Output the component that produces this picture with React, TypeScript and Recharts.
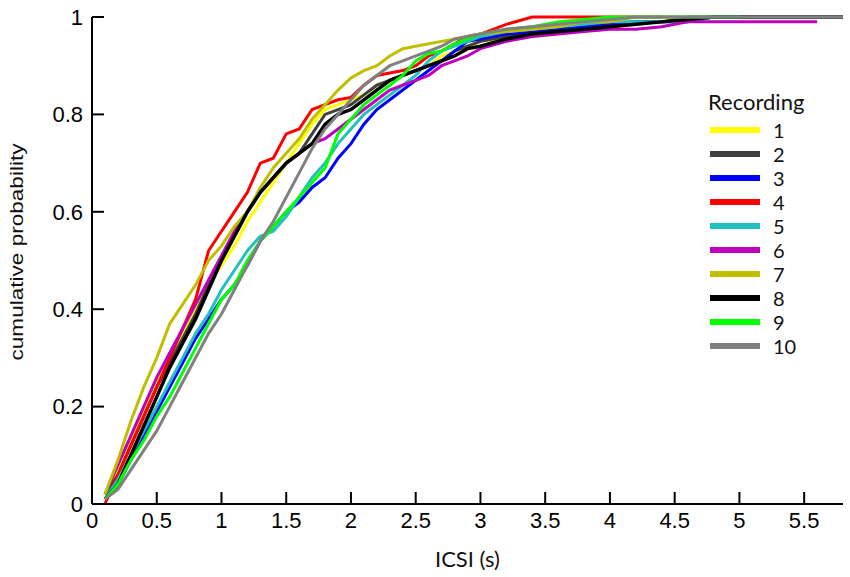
import React from 'react';
import { LineChart, Line, XAxis, YAxis, Legend, Label } from 'recharts';

// ICSI grid (s)
const xs = [
  0.1, 0.2, 0.3, 0.4, 0.5, 0.6, 0.7, 0.8, 0.9, 1.0,
  1.1, 1.2, 1.3, 1.4, 1.5, 1.6, 1.7, 1.8, 1.9, 2.0,
  2.1, 2.2, 2.3, 2.4, 2.5, 2.6, 2.7, 2.8, 2.9, 3.0,
  3.2, 3.4, 3.6, 3.8, 4.0, 4.2, 4.4, 4.6, 4.8, 5.0,
  5.2, 5.4, 5.6, 5.8,
];

const rec1 = [
  0.02, 0.07, 0.13, 0.19, 0.25, 0.3, 0.35, 0.4, 0.45, 0.49,
  0.53, 0.58, 0.62, 0.66, 0.7, 0.74, 0.78, 0.81, 0.82, 0.83,
  0.84, 0.86, 0.87, 0.88, 0.89, 0.9, 0.92, 0.93, 0.94, 0.95,
  0.955, 0.96, 0.965, 0.975, 0.98, 0.985, 0.99, 1.0,
];
const rec2 = [
  0.02, 0.06, 0.12, 0.18, 0.24, 0.29, 0.34, 0.39, 0.45, 0.5,
  0.55, 0.6, 0.64, 0.67, 0.7, 0.72, 0.76, 0.8, 0.81, 0.82,
  0.84, 0.86, 0.87, 0.88, 0.89, 0.9, 0.91, 0.93, 0.94, 0.95,
  0.96, 0.97, 0.975, 0.98, 0.985, 0.99, 0.99, 1.0, 1.0, 1.0,
];
const rec3 = [
  0.01, 0.04, 0.09, 0.14, 0.19, 0.24, 0.29, 0.34, 0.38, 0.42,
  0.45, 0.49, 0.54, 0.57, 0.6, 0.62, 0.65, 0.67, 0.71, 0.74,
  0.78, 0.81, 0.83, 0.85, 0.87, 0.89, 0.91, 0.93, 0.95, 0.955,
  0.965, 0.97, 0.975, 0.98, 0.985, 0.99, 0.99, 0.99, 1.0, 1.0,
];
const rec4 = [
  0.0, 0.06, 0.12, 0.18, 0.24, 0.3, 0.36, 0.42, 0.52, 0.56,
  0.6, 0.64, 0.7, 0.71, 0.76, 0.77, 0.81, 0.82, 0.83, 0.835,
  0.86, 0.88, 0.885, 0.89, 0.9, 0.92, 0.93, 0.945, 0.96, 0.965,
  0.985, 1.0, 1.0, 1.0, 1.0, 1.0, 1.0,
];
const rec5 = [
  0.01, 0.05, 0.1, 0.15, 0.2, 0.25, 0.3, 0.35, 0.39, 0.44,
  0.48, 0.52, 0.55, 0.56, 0.59, 0.63, 0.67, 0.7, 0.74, 0.77,
  0.8, 0.82, 0.84, 0.86, 0.88, 0.91, 0.93, 0.94, 0.95, 0.96,
  0.97, 0.975, 0.98, 0.985, 0.99, 0.99, 0.99, 0.99, 1.0,
];
const rec6 = [
  0.02, 0.08, 0.14, 0.2, 0.26, 0.31, 0.36, 0.41, 0.46, 0.51,
  0.56, 0.6, 0.64, 0.67, 0.7, 0.72, 0.74, 0.75, 0.77, 0.79,
  0.81, 0.83, 0.85, 0.86, 0.87, 0.88, 0.9, 0.91, 0.92, 0.935,
  0.95, 0.96, 0.965, 0.97, 0.975, 0.975, 0.98, 0.99, 0.99, 0.99,
  0.99, 0.99, 0.99,
];
const rec7 = [
  0.02, 0.09, 0.17, 0.24, 0.3, 0.37, 0.41, 0.45, 0.5, 0.53,
  0.57, 0.6, 0.65, 0.69, 0.72, 0.75, 0.79, 0.82, 0.85, 0.875,
  0.89, 0.9, 0.92, 0.935, 0.94, 0.945, 0.95, 0.955, 0.96, 0.965,
  0.97, 0.975, 0.98, 0.99, 0.99, 1.0, 1.0, 1.0, 1.0,
];
const rec8 = [
  0.01, 0.04, 0.1, 0.16, 0.22, 0.28, 0.33, 0.38, 0.44, 0.5,
  0.55, 0.6, 0.64, 0.67, 0.7, 0.72, 0.74, 0.78, 0.8, 0.81,
  0.83, 0.85, 0.87, 0.88, 0.89, 0.9, 0.91, 0.92, 0.935, 0.94,
  0.955, 0.965, 0.97, 0.975, 0.98, 0.985, 0.99, 0.995, 1.0, 1.0,
  1.0, 1.0, 1.0, 1.0,
];
const rec9 = [
  0.01, 0.04, 0.09, 0.13, 0.18, 0.22, 0.27, 0.32, 0.37, 0.42,
  0.45, 0.5, 0.54, 0.57, 0.6, 0.63, 0.66, 0.69, 0.76, 0.79,
  0.82, 0.84, 0.86, 0.88, 0.91, 0.925, 0.93, 0.945, 0.955, 0.965,
  0.975, 0.98, 0.99, 0.995, 1.0, 1.0, 1.0, 1.0, 1.0, 1.0,
];
const rec10 = [
  0.01, 0.03, 0.07, 0.11, 0.15, 0.2, 0.25, 0.3, 0.35, 0.39,
  0.44, 0.49, 0.54, 0.58, 0.63, 0.68, 0.73, 0.77, 0.8, 0.83,
  0.86, 0.88, 0.9, 0.91, 0.92, 0.93, 0.94, 0.955, 0.96, 0.965,
  0.975, 0.98, 0.985, 0.99, 0.995, 1.0, 1.0, 1.0, 1.0, 1.0,
  1.0, 1.0, 1.0, 1.0,
];

const recordings = ['1', '2', '3', '4', '5', '6', '7', '8', '9', '10'];
const seriesValues = [rec1, rec2, rec3, rec4, rec5, rec6, rec7, rec8, rec9, rec10];
const colors = [
  '#ffff00', '#404040', '#0000ff', '#ff0000', '#22c0c0',
  '#bf00bf', '#bfbf00', '#000000', '#00ff00', '#808080',
];

const xTicks = [0, 0.5, 1, 1.5, 2, 2.5, 3, 3.5, 4, 4.5, 5, 5.5];
const yTicks = [0, 0.2, 0.4, 0.6, 0.8, 1];

const data = xs.map((x, i) => {
  const row: Record<string, number | null> = { x };
  seriesValues.forEach((vals, k) => {
    row['r' + recordings[k]] = i < vals.length ? vals[i] : null;
  });
  return row;
});

const tickFont = { fontSize: 22, fill: '#000', fontFamily: '"Liberation Sans", Arial, sans-serif' };
const axisStyle = { stroke: '#000', strokeWidth: 2 };

const RecordingLegend = (props: any) => {
  const items = [...(props.payload || [])].sort((a: any, b: any) => Number(a.value) - Number(b.value));
  return (
    <div style={{ fontFamily: 'Lato, "Open Sans", sans-serif', color: '#111' }}>
      <div style={{ fontSize: 22, lineHeight: '24px', marginBottom: 4 }}>Recording</div>
      {items.map((p: any) => (
        <div key={p.value} style={{ display: 'flex', alignItems: 'center', height: 24 }}>
          <div style={{ width: 50, height: 6, background: p.color, marginLeft: 2 }} />
          <span style={{ fontSize: 20, marginLeft: 13 }}>{p.value}</span>
        </div>
      ))}
    </div>
  );
};

const YLabel = () => (
  <text
    x={18}
    y={252}
    transform="rotate(-90 18 252)"
    textAnchor="middle"
    dominantBaseline="middle"
    textLength={217}
    lengthAdjust="spacingAndGlyphs"
    style={{ fontSize: 18, fill: '#111', fontFamily: '"Liberation Sans", Arial, sans-serif' }}
  >
    cumulative probability
  </text>
);

export default function App() {
  return (
    <div style={{ position: 'absolute', left: 0, top: 0, background: '#fff' }}>
      <LineChart width={850} height={577} data={data} margin={{ top: 17, right: 7, bottom: 0, left: 0 }}>
        {/* negative tickSize = ticks pointing into the plot */}
        <XAxis
          dataKey="x"
          type="number"
          domain={[0, 5.8]}
          ticks={xTicks}
          height={73}
          axisLine={axisStyle}
          tickLine={axisStyle}
          tickSize={-12}
          tickMargin={20}
          tick={tickFont}
          allowDataOverflow
        >
          <Label
            value="ICSI (s)"
            position="insideBottom"
            offset={10}
            style={{ fontSize: 22, fill: '#111', fontFamily: 'Lato, "Open Sans", sans-serif' }}
          />
        </XAxis>
        <YAxis
          type="number"
          domain={[0, 1]}
          ticks={yTicks}
          width={92}
          axisLine={axisStyle}
          tickLine={axisStyle}
          tickSize={-12}
          tickMargin={21}
          tick={tickFont}
          tickFormatter={(v: number) => String(v)}
          label={<YLabel />}
        />
        <Legend
          layout="vertical"
          align="center"
          verticalAlign="middle"
          content={<RecordingLegend />}
          wrapperStyle={{ left: 708, top: 90, width: 130 }}
        />
        {recordings.map((r, k) => (
          <Line
            key={r}
            dataKey={'r' + r}
            name={r}
            type="linear"
            stroke={colors[k]}
            strokeWidth={k === 7 ? 3.5 : 3}
            dot={false}
            isAnimationActive={false}
            connectNulls={false}
          />
        ))}
      </LineChart>
    </div>
  );
}
